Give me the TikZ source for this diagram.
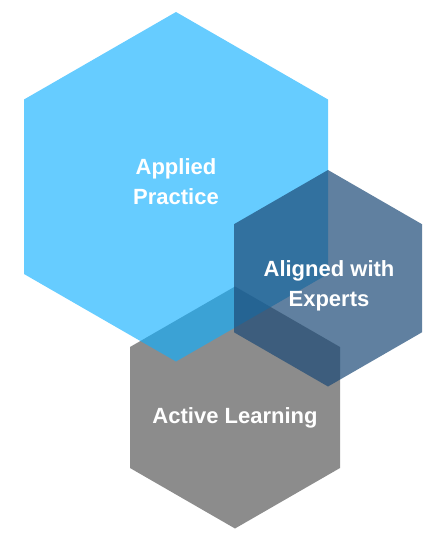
\documentclass[tikz,border=0pt]{standalone}
\usepackage{fontspec}
\setmainfont{Liberation Sans}
\definecolor{appliedblue}{RGB}{14,175,255}
\definecolor{expertblue}{RGB}{28,74,119}
\definecolor{activegray}{RGB}{140,140,140}

\begin{document}
\begin{tikzpicture}[x=1pt, y=-1pt,
    hexlabel/.style={text=white, font=\bfseries\fontsize{22}{30}\selectfont, align=center}]
  \useasboundingbox (0,0) rectangle (445,550);
  % hexagons, bottom one first
  \fill[activegray] (235,286.5) -- (340,347) -- (340,468) -- (235,528.5) -- (130,468) -- (130,347) -- cycle;
  \fill[appliedblue, opacity=0.635] (176,12) -- (328,99.5) -- (328,274) -- (176,361.5) -- (24,274) -- (24,99.5) -- cycle;
  \fill[expertblue, opacity=0.7] (328,170) -- (422,224.2) -- (422,332.3) -- (328,386.5) -- (234,332.3) -- (234,224.2) -- cycle;
  % labels
  \node[hexlabel] (applied) at (176,182) {Applied\\Practice};
  \node[hexlabel] (aligned) at (329,285.5) {Aligned with\\Experts};
  \node[hexlabel] (active) at (235,418) {Active Learning};
\end{tikzpicture}
\end{document}
